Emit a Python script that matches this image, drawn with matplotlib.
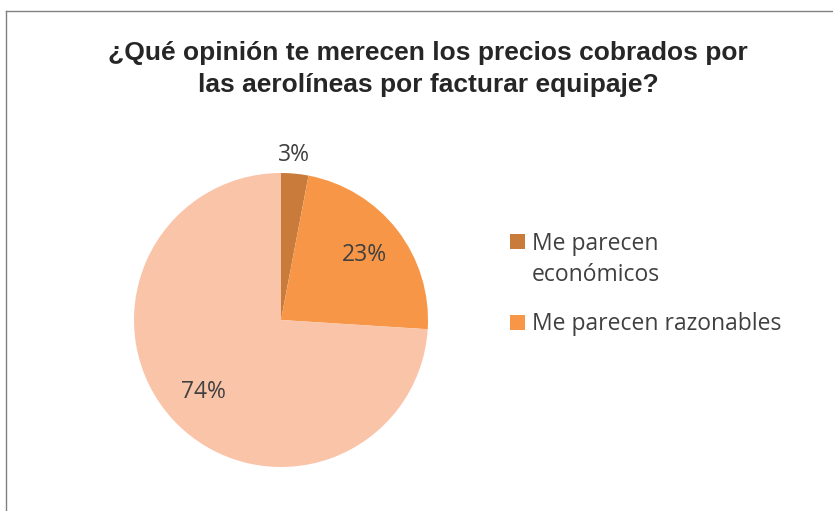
import matplotlib.pyplot as plt
from matplotlib.lines import Line2D
from matplotlib.patches import Rectangle

# Chart data
labels = ["Me parecen\neconómicos", "Me parecen razonables", "Me parecen caros"]
values = [3, 23, 74]
colors = ["#C97B3C", "#F79646", "#FAC4A8"]
title = "¿Qué opinión te merecen los precios cobrados por\nlas aerolíneas por facturar equipaje?"

W, H = 833, 511
DPI = 100
TEXT_GRAY = "#404040"


def px_box(cx, cy, r):
    # axes box in figure fraction from pixel centre / radius
    return [(cx - r) / W, (H - cy - r) / H, 2 * r / W, 2 * r / H]


def fx(x):
    return x / W


def fy(y):
    return 1 - y / H


def main():
    fig = plt.figure(figsize=(W / DPI, H / DPI), dpi=DPI)

    # chart border (only left and top edges visible)
    fig.add_artist(Line2D([fx(5.5), fx(5.5)], [0, fy(11.5)],
                          transform=fig.transFigure, color="#808080", lw=1))
    fig.add_artist(Line2D([fx(5.5), 1], [fy(11.5), fy(11.5)],
                          transform=fig.transFigure, color="#808080", lw=1))

    fig.text(fx(428), fy(69), title, ha="center", va="center",
             fontsize=19, fontweight="bold", family="Liberation Sans",
             color="#262626", linespacing=1.45)

    ax = fig.add_axes(px_box(281, 320, 147))
    wedges, texts, autotexts = ax.pie(
        values, colors=colors, startangle=90, counterclock=False,
        autopct="%1.0f%%", pctdistance=0.72, radius=1,
        wedgeprops=dict(linewidth=0),
        textprops=dict(fontsize=16.5, family="Open Sans", color=TEXT_GRAY),
    )
    autotexts[0].set_position((0.09, 1.12))
    ax.set_xlim(-1, 1)
    ax.set_ylim(-1, 1)
    ax.set_aspect("equal")
    ax.axis("off")

    # legend: only the first two entries are visible in the original
    entry_y = [242, 322]
    for i in range(2):
        fig.add_artist(Rectangle((fx(510), fy(entry_y[i] + 7.5)), 15 / W, 15 / H,
                                 transform=fig.transFigure,
                                 facecolor=colors[i], edgecolor="none"))
        fig.text(fx(532), fy(entry_y[i] - 10), labels[i], ha="left", va="top",
                 fontsize=16.5, family="Open Sans", color=TEXT_GRAY,
                 linespacing=1.38)

    fig.savefig("out.png", dpi=DPI)
    plt.close(fig)


if __name__ == "__main__":
    main()
